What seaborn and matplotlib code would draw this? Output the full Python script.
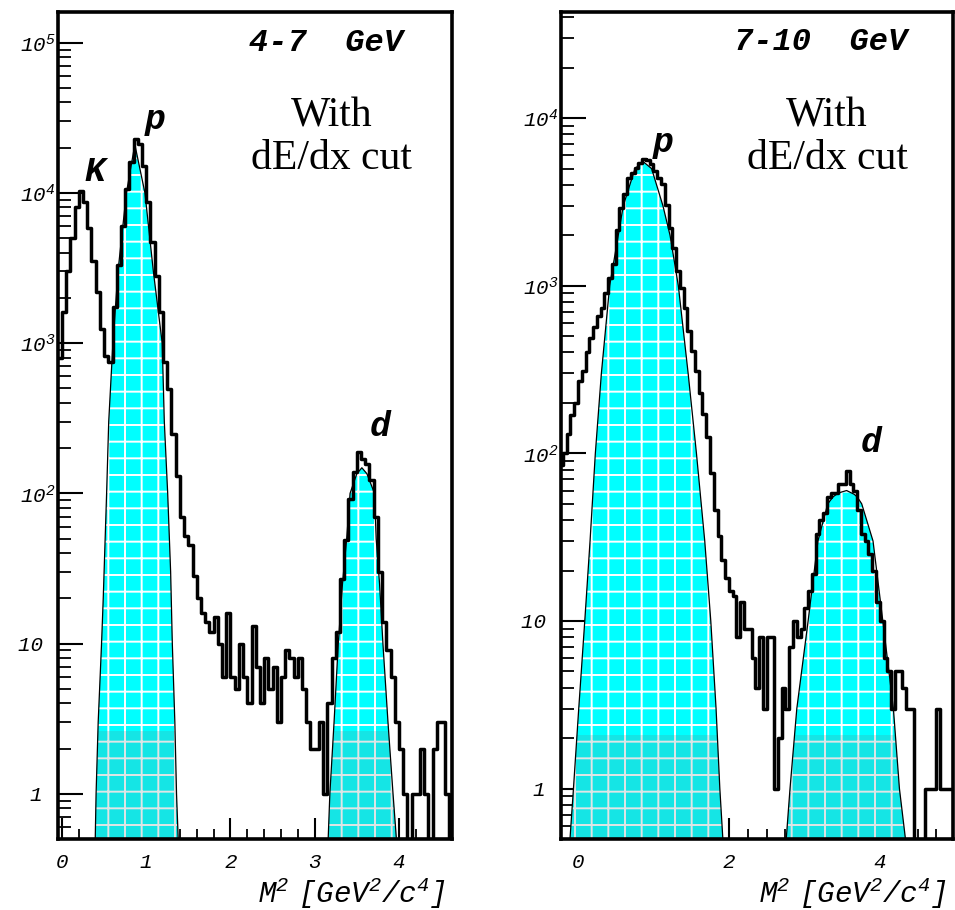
import numpy as np
import pandas as pd
import matplotlib
matplotlib.use("Agg")
import matplotlib.pyplot as plt
import seaborn as sns
from matplotlib.ticker import (FixedLocator, FixedFormatter, MultipleLocator,
                               LogLocator, NullFormatter)

# ------------------------------------------------------------------ data
BIN_W = 0.05

# 4-7 GeV panel: histogram, bins of 0.05 starting at -0.05
left_edge0 = -0.05
left_counts = [
    800, 1600, 3000, 5000, 8000, 10300, 8700, 5800, 3500, 2200,
    1250, 820, 750, 1750, 3300, 6000, 10600, 16000, 22800, 21000,
    15000, 8700, 4700, 2800, 1600, 750, 494, 250, 130, 70,
    52, 45, 28, 20, 16, 14, 12, 15, 10, 6,
    16, 6, 5, 10, 6, 4, 13, 7, 4, 8,
    5, 7, 3, 6, 9, 8, 6, 8, 5, 3,
    2, 2, 3, 1, 4, 8, 12, 27, 49, 91,
    138, 188, 170, 156, 123, 70, 30, 14, 9, 6,
    3, 2, 1, 0, 1, 1, 2, 1, 0, 2,
    3, 3, 1, 0,
]
# fitted proton / deuteron peaks
left_p_fit_x = [0.395, 0.405, 0.43, 0.47, 0.49, 0.53, 0.555, 0.59, 0.605, 0.665,
                0.765, 0.865, 0.985, 1.085, 1.19, 1.215, 1.255, 1.29, 1.31, 1.34,
                1.36, 1.38]
left_p_fit_y = [0.5, 1, 3, 10, 20, 100, 300, 700, 1000, 3000,
                1e4, 2.1e4, 1e4, 3000, 1000, 300, 100, 30, 10, 3,
                1, 0.5]
left_d_fit_x = [3.16, 3.18, 3.23, 3.28, 3.33, 3.38, 3.42, 3.50, 3.56, 3.62,
                3.71, 3.73, 3.77, 3.81, 3.87, 3.93, 3.97]
left_d_fit_y = [0.5, 1, 3, 10, 25, 50, 100, 135, 148, 135,
                100, 50, 25, 10, 3, 1, 0.5]

# 7-10 GeV panel: histogram, bins of 0.05 starting at -0.25
right_edge0 = -0.25
right_counts = [
    85, 100, 131, 170, 200,
    272, 310, 400, 490, 565, 660, 740, 900, 1110, 1350,
    2150, 2900, 3550, 4400, 4700, 5050, 5400, 5700, 5600, 5300,
    4850, 4400, 4050, 3050, 2200, 1680, 1230, 970, 740, 540,
    410, 310, 228, 172, 125, 76, 46, 32, 23, 18,
    15, 14, 8, 13, 9, 9, 6, 4, 8, 3,
    8, 8, 1, 2, 4, 3, 7, 10, 8, 9,
    12, 15, 19, 33, 40, 44, 55, 58, 58, 66,
    66, 79, 66, 60, 46, 33, 30, 25, 20, 13,
    10, 6, 5, 3, 5, 5, 4, 3, 3, 0,
    0, 0, 1, 1, 1, 3, 1, 1, 1, 1,
]
right_p_fit_x = [-0.106, -0.06, 0.01, 0.09, 0.16, 0.23, 0.31, 0.42, 0.534, 0.60,
                 0.755, 0.865, 0.976, 1.126, 1.22, 1.33, 1.46, 1.57, 1.68, 1.76,
                 1.83, 1.88, 1.92]
right_p_fit_y = [0.5, 1, 3, 10, 30, 100, 300, 1000, 2000, 3000,
                 5000, 5500, 5000, 3000, 2000, 1000, 300, 100, 30, 10,
                 3, 1, 0.5]
right_d_fit_x = [2.76, 2.81, 2.90, 3.05, 3.18, 3.31, 3.38, 3.45, 3.56, 3.66,
                 3.70, 3.76, 3.91, 4.04, 4.18, 4.26, 4.34]
right_d_fit_y = [0.5, 1, 3, 10, 30, 50, 55, 58, 60, 57,
                 55, 50, 30, 10, 3, 1, 0.5]

left_yticks = [1, 10, 100, 1e3, 1e4, 1e5]
left_ylabels = ["1 ", "10 ",
                r"$\mathregular{10^{2}}$", r"$\mathregular{10^{3}}$",
                r"$\mathregular{10^{4}}$", r"$\mathregular{10^{5}}$"]
right_yticks = [1, 10, 100, 1e3, 1e4]
right_ylabels = left_ylabels[:5]

xlabel = r"$\mathregular{M^{2}\ [GeV^{2}/c^{4}]}$"

# ------------------------------------------------------------------ style
sns.set_style("white")
plt.rcParams["font.family"] = ["Liberation Mono", "DejaVu Sans"]
plt.rcParams["font.style"] = "italic"
plt.rcParams["text.color"] = "black"
plt.rcParams["axes.labelcolor"] = "black"
plt.rcParams["xtick.color"] = "black"
plt.rcParams["ytick.color"] = "black"
plt.rcParams["hatch.color"] = "white"
plt.rcParams["hatch.linewidth"] = 1.4

CYAN = "#00ffff"


def draw_panel(ax, edge0, counts, fits, xlim, ylim, yticks, ylabels,
               xmajor, xminor, title, title_xy, tags, text_xy, tint_top):
    counts = np.asarray(counts, dtype=float)
    edges = edge0 + BIN_W * np.arange(len(counts) + 1)
    centers = 0.5 * (edges[:-1] + edges[1:])
    df = pd.DataFrame({"m2": centers, "n": counts})

    sns.histplot(data=df, x="m2", weights="n", bins=[float(e) for e in edges],
                 element="step", fill=False, color="black", linewidth=2.5,
                 ax=ax, zorder=4)
    ax.set_yscale("log")

    for fx, fy in fits:
        poly = ax.fill_between(fx, ylim[0] * 0.5, fy, facecolor=CYAN,
                               edgecolor="white", hatch="+", linewidth=0,
                               zorder=1)
        tint = ax.axhspan(ylim[0] * 0.5, tint_top, color="#6a7f80",
                          alpha=0.2, lw=0, zorder=1.3)
        tint.set_clip_path(poly.get_paths()[0], ax.transData)
        ax.plot(fx, fy, color="black", lw=0.9, zorder=2)

    ax.set_xlim(*xlim)
    ax.set_ylim(*ylim)
    ax.set_ylabel("")
    ax.set_xlabel(xlabel, loc="right", fontsize=21, color="black")
    ax.xaxis.set_label_coords(0.985, -0.045)

    ax.yaxis.set_major_locator(FixedLocator(yticks))
    ax.yaxis.set_major_formatter(FixedFormatter(ylabels))
    ax.yaxis.set_minor_locator(LogLocator(base=10, subs=np.arange(2, 10),
                                          numticks=60))
    ax.yaxis.set_minor_formatter(NullFormatter())
    ax.xaxis.set_major_locator(MultipleLocator(xmajor))
    ax.xaxis.set_minor_locator(MultipleLocator(xminor))

    ax.tick_params(axis="y", which="major", direction="in", length=18,
                   width=1.5, left=True, right=False, labelsize=15, pad=2,
                   colors="black")
    ax.tick_params(axis="y", which="minor", direction="in", length=9,
                   width=1.3, left=True, right=False, colors="black")
    ax.tick_params(axis="x", which="major", direction="in", length=15,
                   width=1.5, bottom=True, top=False, labelsize=15, pad=10,
                   colors="black")
    ax.tick_params(axis="x", which="minor", direction="in", length=7,
                   width=1.3, bottom=True, top=False, colors="black")
    for sp in ax.spines.values():
        sp.set_visible(True)
        sp.set_linewidth(2.6)
        sp.set_color("black")
        sp.set_zorder(6)

    ax.text(title_xy[0], title_xy[1], title, transform=ax.transAxes,
            ha="right", va="center", fontsize=23, fontweight="bold",
            fontstyle="italic", color="black")
    for label, (tx, ty) in tags:
        ax.text(tx, ty, label, ha="center", va="center", fontsize=25,
                fontweight="bold", fontstyle="italic", color="black", zorder=7)
    ax.text(text_xy[0], text_xy[1], "With\ndE/dx cut", transform=ax.transAxes,
            ha="center", va="center", multialignment="center",
            family=["Liberation Serif"], fontstyle="normal", fontsize=30,
            linespacing=1.15, color="black")


fig = plt.figure(figsize=(9.55, 9.10), dpi=100)
axL = fig.add_axes([58 / 955, 71 / 910, 394 / 955, 827 / 910])
axR = fig.add_axes([561 / 955, 71 / 910, 392 / 955, 827 / 910])

draw_panel(axL, left_edge0, left_counts,
           [(left_p_fit_x, left_p_fit_y), (left_d_fit_x, left_d_fit_y)],
           (-0.047, 4.63), (0.5, 1.6e5), left_yticks, left_ylabels,
           1.0, 0.2, "4-7  GeV", (0.876, 0.9625),
           [("K", (0.39, 13800)), ("p", (1.10, 31000)), ("d", (3.78, 280))],
           (0.695, 0.848), 2.6)

draw_panel(axR, right_edge0, right_counts,
           [(right_p_fit_x, right_p_fit_y), (right_d_fit_x, right_d_fit_y)],
           (-0.225, 4.97), (0.5, 4.3e4), right_yticks, right_ylabels,
           2.0, 0.25, "7-10  GeV", (0.883, 0.964),
           [("p", (1.126, 7200)), ("d", (3.88, 116))],
           (0.679, 0.848), 2.1)

fig.savefig("out.png", dpi=100)
